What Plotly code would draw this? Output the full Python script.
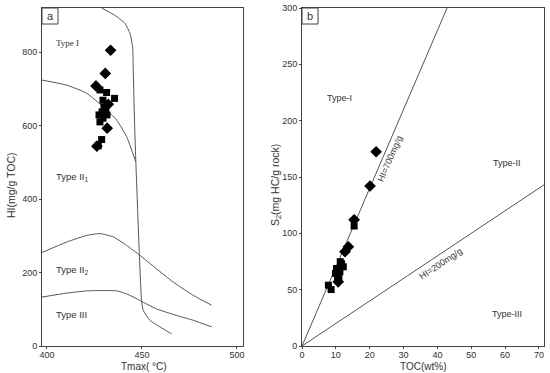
import plotly.graph_objects as go

# ---------------- Panel a data (Tmax vs HI) ----------------
a_dia_tmax = [433.5, 430.7, 425.8, 432.3, 431.7, 426.3]
a_dia_hi = [805, 742, 708, 658, 593, 544]
a_sq_tmax = [427.9, 431.4, 435.6, 429.5, 430.0, 429.0, 427.4, 430.5, 429.5, 431.6, 428.8, 427.0, 427.9, 431.0]
a_sq_hi = [697, 690, 674, 669, 650, 637, 629, 634, 620, 629, 562, 545, 610, 648]

# boundary curves
typeI_x = [428.8, 435.8, 441.1, 443.7, 445.1, 445.4, 445.8, 446.3, 446.8, 449.8, 450.7, 454.2, 459.5, 465.6]
typeI_y = [920, 900, 878, 851, 814, 760, 669, 579, 501, 124, 97, 70, 52, 33]
typeI_II_x = [397.2, 410.4, 420.9, 429.6, 436.7, 441.9, 446.8]
typeI_II_y = [724, 710, 688, 651, 615, 570, 501]
typeII1_II2_x = [397.2, 410.4, 420.9, 427.9, 434.9, 441.9, 448.9, 457.7, 466.5, 477.0, 486.7]
typeII1_II2_y = [254, 283, 301, 306, 297, 274, 247, 210, 174, 138, 111]
typeII2_III_x = [397.2, 410.4, 420.9, 427.9, 436.7, 441.9, 448.9, 457.7, 468.3, 477.0, 486.7]
typeII2_III_y = [133, 144, 150, 151, 150, 142, 124, 101, 83, 70, 52]

# ---------------- Panel b data (TOC vs S2) ----------------
b_dia_toc = [21.9, 20.1, 15.4, 13.7, 12.7, 10.7]
b_dia_s2 = [172.4, 142, 112, 88, 83.7, 57]
b_sq_toc = [15.4, 11.3, 12.2, 10.2, 9.9, 10.9, 7.8, 8.6, 11.2, 11.7, 10.5]
b_sq_s2 = [106.5, 74.8, 70.3, 68.8, 64.4, 61.4, 54, 50.1, 65.9, 73, 59]
hi_lines = [700, 200]
b_xmax = 71.5
b_ymax = 300

line_col = "#555555"
axis_col = "#444444"
txt_col = "#333333"
FONT = "Liberation Sans"

fig = go.Figure()

for xs, ys in [(typeI_x, typeI_y), (typeI_II_x, typeI_II_y),
               (typeII1_II2_x, typeII1_II2_y), (typeII2_III_x, typeII2_III_y)]:
    fig.add_trace(go.Scatter(x=xs, y=ys, mode="lines", line=dict(color=line_col, width=1, shape="spline", smoothing=0.5),
                             xaxis="x", yaxis="y", showlegend=False, hoverinfo="skip"))

fig.add_trace(go.Scatter(x=a_sq_tmax, y=a_sq_hi, mode="markers", marker=dict(symbol="square", size=7, color="black"),
                         xaxis="x", yaxis="y", showlegend=False))
fig.add_trace(go.Scatter(x=a_dia_tmax, y=a_dia_hi, mode="markers", marker=dict(symbol="diamond", size=9, color="black"),
                         xaxis="x", yaxis="y", showlegend=False))

for hi in hi_lines:
    s2_end = min(b_ymax, hi / 100 * b_xmax)
    toc_end = s2_end / (hi / 100)
    fig.add_trace(go.Scatter(x=[0, toc_end], y=[0, s2_end], mode="lines", line=dict(color=line_col, width=1),
                             xaxis="x2", yaxis="y2", showlegend=False, hoverinfo="skip"))

fig.add_trace(go.Scatter(x=b_sq_toc, y=b_sq_s2, mode="markers", marker=dict(symbol="square", size=7, color="black"),
                         xaxis="x2", yaxis="y2", showlegend=False))
fig.add_trace(go.Scatter(x=b_dia_toc, y=b_dia_s2, mode="markers", marker=dict(symbol="diamond", size=9, color="black"),
                         xaxis="x2", yaxis="y2", showlegend=False))

ax_common = dict(showline=True, mirror=True, linecolor=axis_col, linewidth=1, showgrid=False, zeroline=False,
                 ticks="outside", ticklen=2, tickcolor=axis_col, tickfont=dict(family=FONT, size=9, color=txt_col))

ydom = [1 - 346 / 373, 1 - 8 / 373]
fig.update_layout(
    width=550, height=373, margin=dict(l=0, r=0, t=0, b=0, autoexpand=False),
    paper_bgcolor="white", plot_bgcolor="white",
    xaxis=dict(domain=[42 / 550, 243 / 550], range=[397.4, 503.2], tickvals=[400, 450, 500], anchor="y",
               ticklabelstandoff=-2, **ax_common),
    yaxis=dict(domain=ydom, range=[0, 920], tickvals=[0, 200, 400, 600, 800], anchor="x", **ax_common),
    xaxis2=dict(domain=[302 / 550, 544 / 550], range=[0, b_xmax], dtick=10, anchor="y2",
                ticklabelstandoff=-2, **ax_common),
    yaxis2=dict(domain=ydom, range=[0, b_ymax], dtick=50, anchor="x2", **ax_common),
)

ann = []
def A(text, x, y, xref="paper", yref="paper", size=10, fam=FONT, angle=0, xanchor="center", yanchor="middle"):
    ann.append(dict(text=text, x=x, y=y, xref=xref, yref=yref, showarrow=False, textangle=angle,
                    font=dict(family=fam, size=size, color=txt_col), xanchor=xanchor, yanchor=yanchor))

def px(xp, yp):
    return xp / 550, 1 - yp / 373

# axis titles
A("Tmax( °C)", *px(144, 366), size=10)
A("TOC(wt%)", *px(423, 366), size=10)
A("HI(mg/g TOC)", *px(11, 185), size=10.5, angle=-90)
A("S<sub>2</sub>(mg HC/g rock)", *px(276, 185), size=10.5, angle=-90)

# panel a type labels
A("Type I", 403.7, 825, "x", "y", size=9, fam="Liberation Serif", xanchor="left")
A("Type II<sub>1</sub>", 403.7, 461, "x", "y", size=9.5, xanchor="left")
A("Type II<sub>2</sub>", 403.7, 206, "x", "y", size=9.5, xanchor="left")
A("Type III", 403.7, 86, "x", "y", size=9.5, xanchor="left")

# panel b labels
A("Type-I", 11.2, 220, "x2", "y2", size=9)
A("Type-II", 60.7, 162, "x2", "y2", size=9)
A("Type-III", 60.5, 28.8, "x2", "y2", size=9)
A("HI=700mg/g", 26, 165.6, "x2", "y2", size=9, angle=-66.7)
A("HI=200mg/g", 40.8, 73, "x2", "y2", size=9, angle=-33.6)

# panel letters
A("a", *px(50, 16), size=11)
A("b", *px(310, 16), size=11)
fig.update_layout(annotations=ann)

shapes = []
for x0 in [42, 302]:
    shapes.append(dict(type="rect", xref="paper", yref="paper", x0=x0 / 550, x1=(x0 + 16) / 550,
                       y0=1 - 24 / 373, y1=1 - 8 / 373, line=dict(color=axis_col, width=1)))
fig.update_layout(shapes=shapes)

post = ("document.documentElement.style.margin='0';document.documentElement.style.overflow='hidden';"
        "document.body.style.margin='0';document.body.style.padding='0';document.body.style.overflow='hidden';"
        "var gd=document.getElementById('{plot_id}');gd.style.position='fixed';gd.style.top='0px';gd.style.left='0px';")
fig.write_html("out.html", config={"displayModeBar": False}, post_script=post)
